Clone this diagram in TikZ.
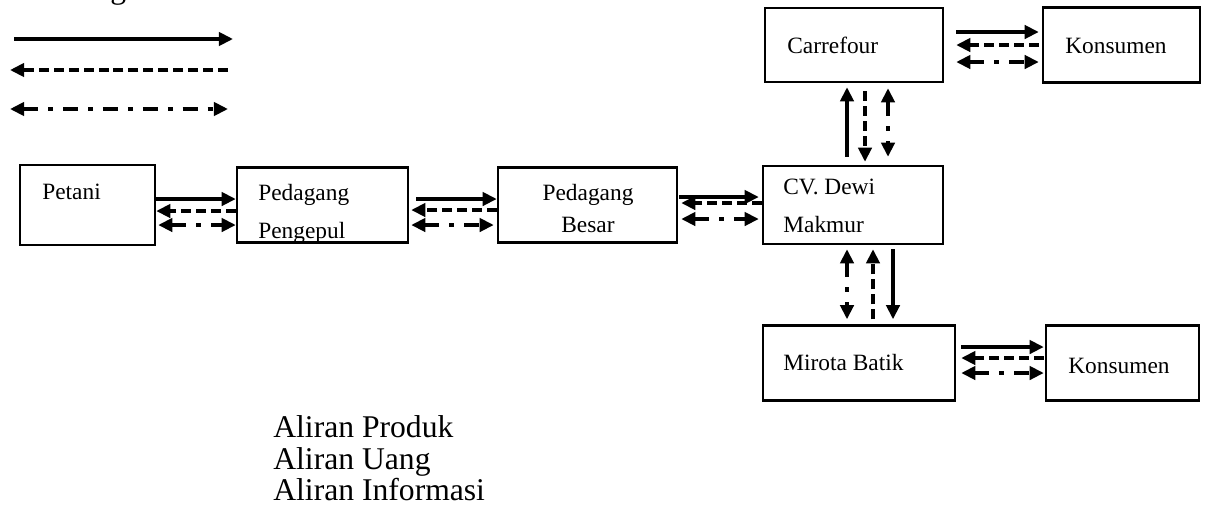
\documentclass[tikz,border=0pt]{standalone}
\usepackage{fontspec}
\setmainfont{Liberation Serif}
\usetikzlibrary{arrows.meta,calc}

\tikzset{
	kotak/.style={draw, line width=1.4pt, inner sep=0pt},
	teks/.style={inner sep=0pt, font=\fontsize{13.3}{18}\selectfont},
	ket/.style={inner sep=0pt, anchor=base west, font=\fontsize{18}{18}\selectfont},
	ujung/.tip={Triangle[length=8pt,width=7.5pt]},
	aliran/.style={line width=2.2pt},
	produk/.style={aliran, -ujung},
	uang/.style={aliran, -ujung, dash pattern=on 5.7pt off 2.8pt},
	informasi/.style={aliran, ujung-ujung, dash pattern=on 8.5pt off 5.7pt on 2.8pt off 5.7pt},
}

\begin{document}
\begin{tikzpicture}[x=0.02cm, y=-0.02cm]
		\useasboundingbox (0,0) rectangle (1206,515);
		% keterangan
		\node[ket] (judul) at (10,-2) {Keterangan :};
		\draw[produk] (14,39) -- (233,39);
		\draw[uang] (228,70) -- (10,70);
		\draw[informasi] (10,109) -- (228,109);
		\node[ket] (ketproduk) at (273,437) {Aliran Produk};
		\node[ket] (ketuang) at (273,469) {Aliran Uang};
		\node[ket] (ketinfo) at (273,500) {Aliran Informasi};

		% kotak
		\node[kotak, minimum width=2.7cm, minimum height=1.6cm] (petani) at (87.5,205) {};
		\node[kotak, minimum width=3.42cm, minimum height=1.5cm] (pengepul) at (322.5,205) {};
		\node[kotak, minimum width=3.58cm, minimum height=1.5cm] (besar) at (587.5,205) {};
		\node[kotak, minimum width=3.6cm, minimum height=1.56cm] (cv) at (853,205) {};
		\node[kotak, minimum width=3.56cm, minimum height=1.48cm] (carrefour) at (854,45) {};
		\node[kotak, minimum width=3.14cm, minimum height=1.5cm] (kons1) at (1121.5,45) {};
		\node[kotak, minimum width=3.84cm, minimum height=1.5cm] (mirota) at (859,363) {};
		\node[kotak, minimum width=3.06cm, minimum height=1.5cm] (kons2) at (1122.5,363) {};

		% teks kotak
		\node[teks, anchor=base west] (petanitxt) at (42,199) {Petani};
		\begin{scope}
			\clip (pengepul.south west) rectangle (pengepul.north east);
			\node[teks, anchor=base west] (pengepul1) at (258,200) {Pedagang};
			\node[teks, anchor=base west] (pengepul2) at (258,238) {Pengepul};
		\end{scope}
		\node[teks, anchor=base] (besar1) at (588,200) {Pedagang};
		\node[teks, anchor=base] (besar2) at (588,232) {Besar};
		\node[teks, anchor=base west] (cv1) at (783,194) {CV. Dewi};
		\node[teks, anchor=base west] (cv2) at (783,232) {Makmur};
		\node[teks, anchor=base west] (carrefourtxt) at (787,53) {Carrefour};
		\node[teks, anchor=base west] (kons1txt) at (1065,53) {Konsumen};
		\node[teks, anchor=base west] (mirotatxt) at (783,370) {Mirota Batik};
		\node[teks, anchor=base west] (kons2txt) at (1068,373) {Konsumen};

		% petani - pengepul
		\draw[produk] ($(petani.east)+(0,-6)$) -- ($(pengepul.west)+(0,-6)$);
		\draw[uang] ($(pengepul.west)+(0,6)$) -- ($(petani.east)+(0,6)$);
		\draw[informasi] ($(petani.east)+(2,20)$) -- ($(pengepul.west)+(0,20)$);
		% pengepul - besar
		\draw[produk] ($(pengepul.east)+(7,-6)$) -- ($(besar.west)+(0,-6)$);
		\draw[uang] ($(besar.west)+(0,5)$) -- ($(pengepul.east)+(2,5)$);
		\draw[informasi] ($(pengepul.east)+(2,20)$) -- ($(besar.west)+(-3,20)$);
		% besar - cv
		\draw[produk] ($(besar.east)+(1,-8)$) -- ($(cv.west)+(-3,-8)$);
		\draw[uang] ($(cv.west)+(0,-2)$) -- ($(besar.east)+(3,-2)$);
		\draw[informasi] ($(besar.east)+(3,14)$) -- ($(cv.west)+(-3,14)$);
		% cv - carrefour
		\draw[produk] ($(cv.north)+(-6,-8)$) -- ($(carrefour.south)+(-7,4)$);
		\draw[uang] ($(carrefour.south)+(11,8)$) -- ($(cv.north)+(12,-3)$);
		\draw[informasi] ($(carrefour.south)+(34,5)$) -- ($(cv.north)+(35,-8)$);
		% carrefour - konsumen
		\draw[produk] ($(carrefour.east)+(12,-13)$) -- ($(kons1.west)+(-3,-13)$);
		\draw[uang] ($(kons1.west)+(-3,0)$) -- ($(carrefour.east)+(12,0)$);
		\draw[informasi] ($(carrefour.east)+(12,17)$) -- ($(kons1.west)+(-3,17)$);
		% cv - mirota
		\draw[informasi] ($(cv.south)+(-6,4)$) -- ($(mirota.north)+(-12,-5)$);
		\draw[uang] ($(mirota.north)+(14,-5)$) -- ($(cv.south)+(20,4)$);
		\draw[produk] ($(cv.south)+(40,4)$) -- ($(mirota.north)+(34,-5)$);
		% mirota - konsumen
		\draw[produk] ($(mirota.east)+(5,-16)$) -- ($(kons2.west)+(-1,-16)$);
		\draw[uang] ($(kons2.west)+(-1,-5)$) -- ($(mirota.east)+(5,-5)$);
		\draw[informasi] ($(mirota.east)+(5,10)$) -- ($(kons2.west)+(-1,10)$);
	\end{tikzpicture}
\end{document}
